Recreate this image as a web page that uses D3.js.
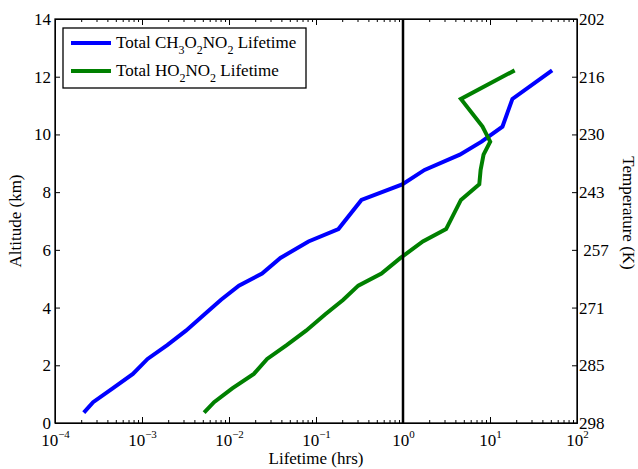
<!DOCTYPE html>
<html lang="en">
<head>
    <meta charset="UTF-8">
    <title>Lifetime vs Altitude</title>
    <script src="https://d3js.org/d3.v7.min.js"></script>
    <style>
        body { margin: 0; background: #fff; }
        svg { font-family: "Liberation Serif", "Times New Roman", serif; }
        .axis path, .axis line { stroke: #000; }
        .axis text { font-size: 17px; fill: #000; font-family: "Liberation Serif", serif; }
    </style>
</head>
<body>
<svg id="chart" width="638" height="469"></svg>
<script>
// altitude (km) of each profile level
const altitudes = [0.36, 0.72, 1.2, 1.7, 2.22, 2.7, 3.2, 3.76, 4.27, 4.76, 5.18, 5.72,
                   6.29, 6.72, 7.73, 8.27, 8.77, 9.3, 9.75, 10.27, 11.23, 12.22];
// Total CH3O2NO2 lifetime (hrs)
const ch3o2no2Lifetime = [2.14e-4, 2.74e-4, 4.6e-4, 7.85e-4, 1.16e-3, 1.95e-3, 3.2e-3, 5.2e-3, 8.1e-3, 0.013,
                          0.024, 0.039, 0.082, 0.181, 0.333, 0.98, 1.77, 4.5, 8.0, 13.9, 18.1, 51.8];
// Total HO2NO2 lifetime (hrs)
const ho2no2Lifetime = [5.18e-3, 6.74e-3, 0.0109, 0.0193, 0.0274, 0.046, 0.0769, 0.127, 0.206, 0.306,
                        0.565, 0.936, 1.69, 3.13, 4.63, 7.53, 7.8, 8.43, 10.05, 8.2, 4.63, 19.2];

const altitudeTicks = [0, 2, 4, 6, 8, 10, 12, 14];
const temperatureLabels = ['298', '285', '271', ' 257', '243', '230', '216', '202'];
const decadeExponents = [-4, -3, -2, -1, 0, 1, 2];
const referenceLifetime = 1;

const margin = { top: 19, right: 61, bottom: 46, left: 55 };
const svgWidth = 638, svgHeight = 469;
const width = svgWidth - margin.left - margin.right;
const height = svgHeight - margin.top - margin.bottom;

const svg = d3.select('#chart')
    .append('g')
    .attr('transform', `translate(${margin.left},${margin.top})`);

const x = d3.scaleLog().domain([1e-4, 1e2]).range([0, width]);
const y = d3.scaleLinear().domain([0, 14]).range([height, 0]);

const decades = decadeExponents.map(e => Math.pow(10, e));
const minorTicks = x.ticks().filter(t => !decades.some(d => Math.abs(d - t) / d < 1e-6));

// minor log ticks, bottom and top, pointing inward
svg.append('g').attr('class', 'axis')
    .attr('transform', `translate(0,${height})`)
    .call(d3.axisBottom(x).tickValues(minorTicks).tickSizeInner(-3).tickSizeOuter(0).tickFormat(''));
svg.append('g').attr('class', 'axis')
    .call(d3.axisTop(x).tickValues(minorTicks).tickSizeInner(-3).tickSizeOuter(0).tickFormat(''));

// major ticks
const xAxis = svg.append('g').attr('class', 'axis')
    .attr('transform', `translate(0,${height})`)
    .call(d3.axisBottom(x).tickValues(decades).tickSizeInner(-6).tickSizeOuter(0).tickFormat(''));
svg.append('g').attr('class', 'axis')
    .call(d3.axisTop(x).tickValues(decades).tickSizeInner(-6).tickSizeOuter(0).tickFormat(''));

// 10^n labels
xAxis.selectAll('.tick').each(function(d, i) {
    const t = d3.select(this).append('text')
        .attr('y', 23)
        .attr('text-anchor', 'middle')
        .style('font-size', '17px');
    t.append('tspan').text('10');
    t.append('tspan')
        .attr('dy', -8)
        .style('font-size', '11px')
        .text(decadeExponents[i] < 0 ? '\u2212' + Math.abs(decadeExponents[i]) : decadeExponents[i]);
});

svg.append('g').attr('class', 'axis')
    .call(d3.axisLeft(y).tickValues(altitudeTicks).tickSizeInner(-5).tickSizeOuter(0).tickPadding(4));

svg.append('g').attr('class', 'axis')
    .attr('transform', `translate(${width},0)`)
    .call(d3.axisRight(y).tickValues(altitudeTicks).tickSizeInner(-5).tickSizeOuter(0).tickPadding(2)
        .tickFormat((d, i) => temperatureLabels[i]))
    .selectAll('text').style('white-space', 'pre');

// frame
svg.append('rect')
    .attr('width', width).attr('height', height)
    .attr('fill', 'none').attr('stroke', '#000').attr('stroke-width', 1.3);

// profiles
const line = d3.line().x(d => x(d[0])).y(d => y(d[1]));
svg.append('path')
    .datum(d3.zip(ch3o2no2Lifetime, altitudes))
    .attr('d', line)
    .attr('fill', 'none').attr('stroke', '#0000ff').attr('stroke-width', 4);
svg.append('path')
    .datum(d3.zip(ho2no2Lifetime, altitudes))
    .attr('d', line)
    .attr('fill', 'none').attr('stroke', '#008000').attr('stroke-width', 4);

// 1 hour reference line
svg.append('line')
    .attr('x1', x(referenceLifetime)).attr('x2', x(referenceLifetime))
    .attr('y1', 0).attr('y2', height)
    .attr('stroke', '#000').attr('stroke-width', 2.5);

// axis titles
svg.append('text')
    .attr('x', width / 2).attr('y', height + 41)
    .attr('text-anchor', 'middle').style('font-size', '17px')
    .text('Lifetime (hrs)');
svg.append('text')
    .attr('transform', `translate(-34,${height / 2}) rotate(-90)`)
    .attr('text-anchor', 'middle').style('font-size', '17px')
    .text('Altitude (km)');
svg.append('text')
    .attr('transform', `translate(${width + 46},${height / 2 - 8}) rotate(90)`)
    .attr('text-anchor', 'middle').style('font-size', '17px')
    .text('Temperature (K)');

// legend
const legend = svg.append('g').attr('transform', 'translate(8,9)');
legend.append('rect')
    .attr('width', 243).attr('height', 60)
    .attr('fill', '#fff').attr('stroke', '#000').attr('stroke-width', 1.3);

const legendItems = [
    { color: '#0000ff', parts: [['Total CH', 0], ['3', 1], ['O', 0], ['2', 1], ['NO', 0], ['2', 1], [' Lifetime', 0]] },
    { color: '#008000', parts: [['Total HO', 0], ['2', 1], ['NO', 0], ['2', 1], [' Lifetime', 0]] }
];
legendItems.forEach((item, i) => {
    const cy = 15 + i * 28;
    legend.append('line')
        .attr('x1', 8).attr('x2', 48).attr('y1', cy).attr('y2', cy)
        .attr('stroke', item.color).attr('stroke-width', 4);
    const t = legend.append('text')
        .attr('x', 53).attr('y', cy + 5)
        .style('font-size', '17px')
        .style('white-space', 'pre');
    let sub = 0;
    item.parts.forEach(([s, isSub]) => {
        t.append('tspan')
            .attr('dy', isSub === sub ? 0 : (isSub ? 6 : -6))
            .style('font-size', isSub ? '12px' : '17px')
            .text(s);
        sub = isSub;
    });
});
</script>
</body>
</html>
